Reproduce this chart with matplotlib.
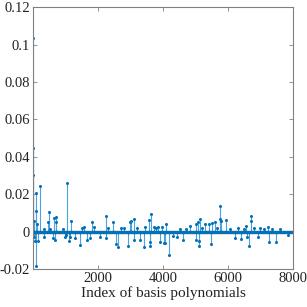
import numpy as np
import matplotlib
matplotlib.use("Agg")
import matplotlib.pyplot as plt

plt.rcParams['font.family'] = ['Liberation Serif', 'DejaVu Serif']

n_basis = 8000
# notable coefficients (index, value); all others ~0
peak_idx = [1, 3, 12, 20, 40, 65, 83, 102, 105, 130, 150, 206, 330, 338, 470, 483,
            523, 625, 650, 677, 700, 708, 914, 994, 1015, 1037, 1117, 1138, 1180,
            1300, 1455, 1498, 1560, 1671, 1740, 1815, 1870, 2052, 2250, 2256, 2300,
            2470, 2540, 2625, 2700, 2800, 2933, 2975, 3015, 3108, 3117, 3200, 3292,
            3406, 3450, 3579, 3600, 3610, 3631, 3733, 3780, 3830, 3908, 3960, 4022,
            4062, 4092, 4175, 4300, 4420, 4520, 4600, 4700, 4831, 5006, 5015, 5068,
            5087, 5105, 5117, 5200, 5300, 5400, 5455, 5500, 5580, 5650, 5744, 5754,
            5785, 5938, 6050, 6215, 6300, 6380, 6480, 6560, 6580, 6646, 6687, 6708,
            6800, 6900, 6980, 7100, 7231, 7262, 7350, 7477, 7600, 7837]
peak_val = [0.1034, 0.0445, 0.0300, 0.0058, -0.0027, -0.0049, -0.0182, 0.0205, 0.0108,
            0.0040, -0.0052, 0.0243, -0.0027, 0.0014, 0.0053, 0.0106,
            0.0014, -0.0034, 0.0071, -0.0045, 0.0053, 0.0076, 0.0014, -0.0027, -0.0018,
            0.0261, -0.0052, -0.0030, 0.0056,
            -0.0034, -0.0070, 0.0021, 0.0026, -0.0045, -0.0033, 0.0053, 0.0026, -0.0027,
            0.0083, -0.0036, 0.0018,
            0.0051, -0.0066, -0.0080, 0.0020, 0.0018, -0.0076, 0.0053, 0.0058, -0.0045,
            0.0065, 0.0020, -0.0045,
            -0.0083, 0.0022, 0.0062, -0.0054, -0.0077, 0.0094, 0.0026, 0.0020, 0.0024,
            -0.0054, 0.0022, -0.0060,
            -0.0063, 0.0043, -0.0125, -0.0024, -0.0027, 0.0015, -0.0045, 0.0016, 0.0030,
            0.0040, -0.0045, 0.0050,
            -0.0050, -0.0077, 0.0066, 0.0020, 0.0040, 0.0040, -0.0066, 0.0047, 0.0050,
            0.0018, 0.0135, 0.0066,
            0.0058, 0.0062, 0.0015, -0.0036, 0.0018, -0.0040, 0.0015, 0.0031, -0.0027,
            -0.0077, 0.0083, 0.0058,
            0.0020, -0.0030, 0.0018, 0.0016, 0.0026, -0.0058, 0.0015, -0.0058, 0.0012,
            -0.0020]

coef = np.zeros(n_basis)
coef[np.array(peak_idx) - 1] = peak_val
idx = np.arange(1, n_basis + 1)

xticks = [2000, 4000, 6000, 8000]
yticks = [-0.02, 0, 0.02, 0.04, 0.06, 0.08, 0.1, 0.12]
yticklabels = ['-0.02', '0', '0.02', '0.04', '0.06', '0.08', '0.1', '0.12']

blue = '#0072BD'
fig = plt.figure(figsize=(3.07, 3.07), dpi=100)
ax = fig.add_axes([0.1075, 0.1238, 0.848, 0.853])

markerline, stemlines, baseline = ax.stem(idx, coef, basefmt=' ')
plt.setp(stemlines, color='#4DA3DC', linewidth=0.8)
plt.setp(markerline, color=blue, marker='o', markersize=2.2, markeredgewidth=0)
ax.axhline(0, color=blue, linewidth=1.0, zorder=1)

ax.set_xlim(1, 8000)
ax.set_ylim(-0.02, 0.12)
ax.set_xticks(xticks)
ax.set_xticklabels([str(t) for t in xticks])
ax.set_yticks(yticks)
ax.set_yticklabels(yticklabels)
ax.tick_params(direction='in', length=3, width=0.6, color='#808080',
               labelsize=10.5, labelcolor='#222222', top=True, right=True, pad=2)
for s in ax.spines.values():
    s.set_color('#808080')
    s.set_linewidth(0.8)
ax.set_xlabel('Index of basis polynomials', fontsize=11, color='#222222', labelpad=1)

fig.savefig('out.png', dpi=100)
